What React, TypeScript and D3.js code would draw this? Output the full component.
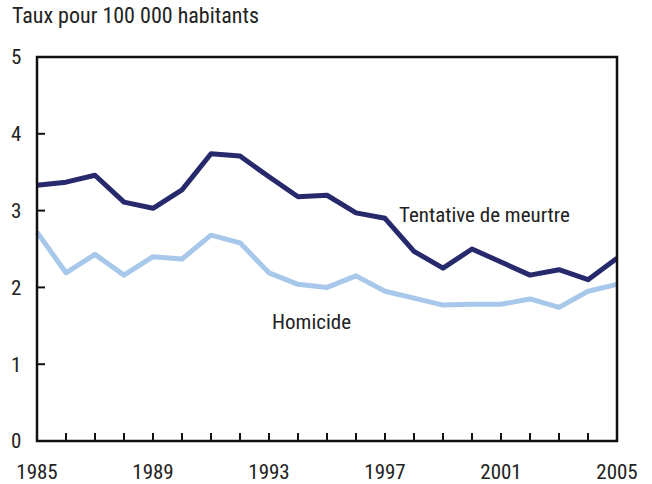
import React from "react";
import * as d3 from "d3";

// --- Data ---
const YEARS = d3.range(1985, 2006);
const TENTATIVE = [3.33, 3.37, 3.46, 3.11, 3.03, 3.27, 3.74, 3.71, 3.44, 3.18, 3.2, 2.97, 2.9, 2.47, 2.25, 2.5, 2.33, 2.16, 2.23, 2.1, 2.38];
const HOMICIDE = [2.72, 2.19, 2.43, 2.16, 2.4, 2.37, 2.68, 2.58, 2.19, 2.04, 2.0, 2.15, 1.95, 1.86, 1.77, 1.78, 1.78, 1.85, 1.74, 1.95, 2.04];
const Y_TICKS = [0, 1, 2, 3, 4, 5];
const X_LABELS = [1985, 1989, 1993, 1997, 2001, 2005];

const W = 652;
const H = 484;
const LEFT = 37;
const RIGHT = 617;
const TOP = 57;
const BOTTOM = 441;
const FONT = "'Liberation Sans Narrow', 'Roboto Condensed', 'Liberation Sans', sans-serif";

export default function App() {
  const x = d3.scaleLinear().domain([1985, 2005]).range([LEFT, RIGHT]);
  const y = d3.scaleLinear().domain([0, 5]).range([BOTTOM, TOP]);

  const line = d3
    .line<number>()
    .x((d, i) => x(YEARS[i]))
    .y((d) => y(d));

  return (
    <svg
      width={W}
      height={H}
      style={{ position: "absolute", left: 0, top: 0, background: "#fff" }}
      fontFamily={FONT}
    >
      <text x={12} y={23} fontSize={22} fill="#222">
        Taux pour 100 000 habitants
      </text>

      {/* series */}
      <path d={line(HOMICIDE) || ""} fill="none" stroke="#a7c8ea" strokeWidth={5} strokeLinejoin="round" />
      <path d={line(TENTATIVE) || ""} fill="none" stroke="#27296d" strokeWidth={5} strokeLinejoin="round" />

      {/* frame */}
      <rect
        x={LEFT}
        y={TOP}
        width={RIGHT - LEFT}
        height={BOTTOM - TOP}
        fill="none"
        stroke="#111"
        strokeWidth={2.5}
      />

      {/* y ticks */}
      {Y_TICKS.map((t) => (
        <g key={t}>
          <line x1={LEFT} x2={LEFT + 8} y1={y(t)} y2={y(t)} stroke="#111" strokeWidth={2} />
          <text x={11} y={y(t)} dy="0.35em" fontSize={21} fill="#222" textAnchor="start">
            {t}
          </text>
        </g>
      ))}

      {/* x ticks */}
      {YEARS.map((yr) => (
        <line key={yr} x1={x(yr)} x2={x(yr)} y1={BOTTOM} y2={BOTTOM - 8} stroke="#111" strokeWidth={2} />
      ))}
      {X_LABELS.map((yr) => (
        <text key={yr} x={x(yr)} y={479} fontSize={21} fill="#222" textAnchor="middle">
          {yr}
        </text>
      ))}

      {/* series labels */}
      <text x={399} y={222} fontSize={21} fill="#222">
        Tentative de meurtre
      </text>
      <text x={272} y={329} fontSize={21} fill="#222">
        Homicide
      </text>
    </svg>
  );
}
